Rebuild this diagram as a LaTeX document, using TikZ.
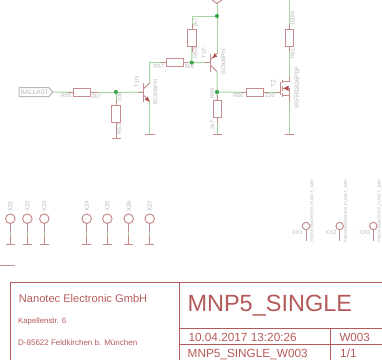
\documentclass[tikz,border=0pt]{standalone}
\usepackage{fontspec}
\setmainfont{Liberation Sans}
\usepackage{tikz}
\definecolor{sympart}{HTML}{C48C8C}
\definecolor{symdark}{HTML}{B04F4F}
\definecolor{symnet}{HTML}{A3D6A3}
\definecolor{symjunc}{HTML}{3FA64F}
\definecolor{symtext}{HTML}{B8B8B8}
\definecolor{symframe}{HTML}{B55A5A}
\tikzset{x=1pt,y=-1pt,
	wire/.style={symnet,line width=1pt},
	part/.style={sympart,line width=1pt},
	res/.style={draw=sympart,line width=1pt,fill=white,minimum width=17pt,minimum height=8.2pt,inner sep=0pt},
	vres/.style={res,minimum width=8.2pt,minimum height=17pt},
	junc/.style={circle,fill=symjunc,inner sep=0pt,minimum size=4pt},
	val/.style={text=symtext,font=\fontsize{5.7}{6}\selectfont,inner sep=0pt},
	vval/.style={val,rotate=90},
	pad/.style={circle,draw=sympart,line width=1pt,fill=white,inner sep=0pt,minimum size=9.5pt},
	smallpad/.style={pad,minimum size=7.5pt},
	frametext/.style={text=symframe,inner sep=0pt,anchor=base west},
	}
\begin{document}
\begin{tikzpicture}
	\useasboundingbox (0,0) rectangle (382,360);
	% input side
	\coordinate (tip) at (52.7,92);
	\node[res] (r55) at (82,92.5) {};
	\node[junc] (j1) at (116,92) {};
	\node[vres] (r52) at (116,113.7) {};
	\coordinate (gnd1) at (116,138.7);
	\coordinate (base1) at (143.3,92);
	\coordinate (col1) at (149.7,62.5);
	\coordinate (emi1) at (149.7,134.7);
	\node[res] (r57) at (175,62.5) {};
	\node[junc] (j2) at (191.7,62.6) {};
	\node[vres] (r58) at (192,37.7) {};
	\node[junc] (j3) at (217,16) {};
	\coordinate (top1) at (217,3.5);
	\coordinate (base2) at (210.7,62.6);
	\node[junc] (j4) at (217,92) {};
	\node[vres] (r59) at (217.5,108.7) {};
	\coordinate (gnd3) at (217.5,134.7);
	\node[res] (r60) at (255.3,92.5) {};
	\coordinate (gate) at (280.7,92.5);
	\node[vres] (r61) at (289.5,37.7) {};
	\coordinate (top2) at (289.5,0);
	\coordinate (gnd4) at (289.5,134.7);
	% nets
	\draw[wire] (tip) -- (r55) -- (116,92.5) -- (base1);
	\draw[wire] (j1) -- (r52) -- (gnd1);
	\draw[wire] (emi1) -- (149.7,101.7);
	\draw[wire] (149.7,83) -- (col1) -- (r57) -- (j2) -- (base2);
	\draw[wire] (r58) -- (j2);
	\draw[wire] (r58) -- (192,16) -- (j3);
	\draw[wire] (top1) -- (j3) -- (217,53.5);
	\draw[wire] (217,71.5) -- (j4) -- (r59) -- (gnd3);
	\draw[wire] (j4) -- (r60) -- (gate);
	\draw[wire] (top2) -- (r61) -- (289.5,81);
	\draw[wire] (289.5,96) -- (gnd4);
	% parts on top of the nets
	\draw[symtext,line width=1pt,fill=white] (19,87.7) -- (49,87.7) -- (tip) -- (49,96.7) -- (19,96.7) -- cycle;
	\node[text=symtext,font=\fontsize{6.4}{7}\selectfont,inner sep=0pt] (ballast) at (34.7,92) {BALLAST};
	\draw[part] (68,92.5) -- (r55.west) (r55.east) -- (98,92.5);
	\draw[part] (116,100) -- (r52.north) (r52.south) -- (116,138.7);
	\draw[part] (161,62.5) -- (r57.west) (r57.east) -- (188,62.5);
	\draw[part] (192,52) -- (r58.south) (r58.north) -- (192,24);
	\draw[part] (217.5,95) -- (r59.north) (r59.south) -- (217.5,123);
	\draw[part] (241,92.5) -- (r60.west) (r60.east) -- (269,92.5);
	\draw[part] (289.5,52) -- (r61.south) (r61.north) -- (289.5,24);
	\node[res] at (r55) {};
	\node[vres] at (r52) {};
	\node[res] at (r57) {};
	\node[vres] at (r58) {};
	\node[vres] at (r59) {};
	\node[res] at (r60) {};
	\node[vres] at (r61) {};
	\node[junc] at (j1) {};
	\node[junc] at (j2) {};
	\node[junc] at (j3) {};
	\node[junc] at (j4) {};
	\draw[part] (111.5,138.7) -- (120.7,138.7);
	\draw[part] (145.3,134.7) -- (154.7,134.7);
	\draw[part] (212.8,134.7) -- (222.2,134.7);
	\draw[part] (284.8,134.7) -- (294.2,134.7);
	\draw[part,fill=white] (212.3,0) -- (217,3.5) -- (221.7,0);
	% T1N
	\draw[part] (143.3,83) -- (143.3,101.5) (143.3,92) -- (138,92);
	\draw[part] (143.3,89) -- (149.7,83) (143.3,95) -- (149.7,101.7);
	\fill[symdark] (149.7,101.7) -- (144.7,99.7) -- (147.7,96.7) -- cycle;
	% T1P
	\draw[part] (210.7,54) -- (210.7,71.5) (210.7,62.6) -- (205,62.6);
	\draw[part] (210.7,59.5) -- (217,53.5) (210.7,65.5) -- (217,71.5);
	\fill[symdark] (212.2,58) -- (217,56.7) -- (215,53) -- cycle;
	% T2
	\draw[part] (280.7,82) -- (280.7,95) (275,92.5) -- (280.7,92.5);
	\draw[part] (282.7,80) -- (282.7,83.3) (282.7,86) -- (282.7,91) (282.7,93.3) -- (282.7,96.7);
	\draw[part] (282.7,81) -- (289.5,81) (289.5,81) -- (289.5,76);
	\draw[part] (282.7,88.3) -- (289.5,88.3) (282.7,95) -- (289.5,95) (289.5,88.3) -- (289.5,102);
	\fill[symdark] (283.5,88.3) -- (288.5,85.5) -- (288.5,91) -- cycle;
	% labels
	\node[val] (l55) at (66,96) {R55};
	\node[val] (v55) at (96.3,96) {2k7};
	\node[vval] (l52) at (119.3,129) {R52};
	\node[vval] (v52) at (119.3,97) {10k};
	\node[vval] (l1n) at (136.7,81.7) {T1N};
	\node[vval] (v1n) at (155.3,92) {BC846PN};
	\node[val] (l57) at (158.7,66.3) {R57};
	\node[val] (v57) at (189.5,66.3) {5k6};
	\node[vval] (l58) at (195.3,53) {R58};
	\node[vval] (v58) at (195.3,23) {2k7};
	\node[vval] (l1p) at (204,53) {T1P};
	\node[vval] (v1p) at (223.3,62) {BC846PN};
	\node[vval] (l59) at (212.3,93.3) {R59};
	\node[vval] (v59) at (212.3,124.7) {2k7};
	\node[val] (l60) at (238.3,96) {R60};
	\node[val] (v60) at (270,96) {220};
	\node[vval] (l61) at (292.7,53.3) {R61};
	\node[vval] (v61) at (292.7,18.3) {150W};
	\node[vval,font=\fontsize{6.6}{7}\selectfont] (l2) at (273.3,83.3) {T2};
	\node[vval,font=\fontsize{6.6}{7}\selectfont] (v2) at (296.7,87.3) {IRFR3806PbF};
	% test points
	\foreach \nm/\xp in {X21/10.3,X22/27.3,X23/44.3,X24/86.7,X25/107.3,X26/128.7,X27/149.7}{
		\node[pad] (\nm) at (\xp,218.7) {};
		\draw[part] (\nm) -- (\xp,244.3) (\xp-4.7,244.3) -- (\xp+4.7,244.3);
		\draw[wire] (\xp,231.5) -- (\xp,234.5);
		\node[vval,font=\fontsize{6}{7}\selectfont] at (\xp,206) {\nm};
	}
	% marker pads
	\foreach \nm/\xp/\lb in {xx1/306/XX1,xx2/339.7/XX2,xx3/373.3/XX3}{
		\node[smallpad] (\nm) at (\xp,226) {};
		\draw[part] (\nm) -- (\xp,240.7);
		\node[val,anchor=east] at (\xp-3,233) {\lb};
		\node[vval,font=\fontsize{4.2}{5}\selectfont] at (\xp+6.3,211) {PASSERMARKER\_PUNKT\_1MM};
	}
	% title block
	\draw[part] (0,265) -- (15,265);
	\draw[symframe,line width=.9pt] (382,282.3) -- (10.5,282.3) -- (10.5,360);
	\draw[symframe,line width=.9pt] (179,282.3) -- (179,360);
	\draw[symframe,line width=.9pt] (179,328.3) -- (382,328.3) (179,344.3) -- (382,344.3) (330.7,328.3) -- (330.7,360);
	\node[frametext,font=\fontsize{11.1}{12}\selectfont] (company) at (18.7,302.7) {Nanotec Electronic GmbH};
	\node[frametext,font=\fontsize{7.8}{9}\selectfont] (street) at (18,323.5) {Kapellenstr. 6};
	\node[frametext,font=\fontsize{8}{9}\selectfont] (town) at (18,345) {D-85622 Feldkirchen b. München};
	\node[frametext,font=\fontsize{23.5}{25}\selectfont] (title) at (187.3,311) {MNP5\_SINGLE};
	\node[frametext,font=\fontsize{11.8}{13}\selectfont] (stamp) at (188.3,341) {10.04.2017 13:20:26};
	\node[frametext,font=\fontsize{11.6}{13}\selectfont] (rev) at (339.3,341) {W003};
	\node[frametext,font=\fontsize{11.8}{13}\selectfont] (sheetname) at (187.5,357.3) {MNP5\_SINGLE\_W003};
	\node[frametext,font=\fontsize{11.8}{13}\selectfont] (sheetno) at (340,357.3) {1/1};
\end{tikzpicture}
\end{document}
